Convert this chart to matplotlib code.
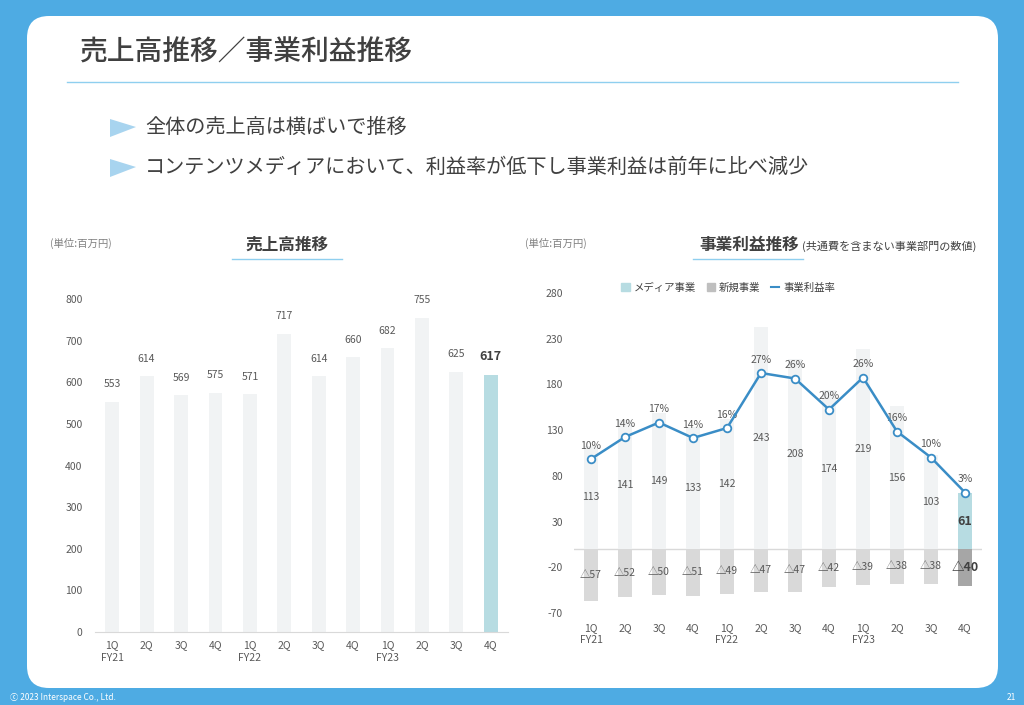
import matplotlib.pyplot as plt
from matplotlib.patches import FancyBboxPatch, Polygon, Patch
from matplotlib.lines import Line2D

plt.rcParams['font.family'] = ['Noto Sans CJK JP', 'DejaVu Sans']
plt.rcParams['axes.unicode_minus'] = False

# ---- data ----
quarters = ["1Q\nFY21", "2Q", "3Q", "4Q", "1Q\nFY22", "2Q", "3Q", "4Q",
            "1Q\nFY23", "2Q", "3Q", "4Q"]
sales = [553, 614, 569, 575, 571, 717, 614, 660, 682, 755, 625, 617]
media_profit = [113, 141, 149, 133, 142, 243, 208, 174, 219, 156, 103, 61]
new_profit = [-57, -52, -50, -51, -49, -47, -47, -42, -39, -38, -38, -40]
profit_rate = [10.1, 14.5, 17.4, 14.3, 16.3, 27.3, 26.2, 20.0, 26.4, 15.6, 10.4, 3.4]

left_yticks = [0, 100, 200, 300, 400, 500, 600, 700, 800]
right_yticks = [-70, -20, 30, 80, 130, 180, 230, 280]

title = "売上高推移／事業利益推移"
bullets = ["全体の売上高は横ばいで推移",
           "コンテンツメディアにおいて、利益率が低下し事業利益は前年に比べ減少"]

# ---- colours ----
BLUE_BG = "#4EABE3"
TEXT = "#404040"
LABEL = "#595959"
BAR_LIGHT = "#F1F3F4"
TEAL = "#B7DCE2"
GRAY_NEG = "#D9D9D9"
GRAY_NEG_LAST = "#A6A6A6"
LINE_BLUE = "#3A8DC6"
ACCENT = "#8FCFEF"

W, H = 1024, 705
fig = plt.figure(figsize=(W / 100, H / 100), dpi=100)
fig.patch.set_facecolor(BLUE_BG)

# background layer in pixel coordinates
bg = fig.add_axes([0, 0, 1, 1])
bg.set_xlim(0, W)
bg.set_ylim(H, 0)
bg.axis("off")
bg.add_patch(FancyBboxPatch((27, 16), 971, 672,
                            boxstyle="round,pad=0,rounding_size=22",
                            fc="white", ec="none"))
bg.text(80, 52, title, fontsize=20, color=TEXT, va="center", ha="left",
        weight="medium")
bg.plot([67, 958], [82, 82], color=ACCENT, lw=1)

for i, b in enumerate(bullets):
    y = 127 + i * 40
    bg.add_patch(Polygon([[110, y - 8], [110, y + 10], [136, y]], closed=True,
                         fc="#A8D4EF", ec="none"))
    bg.text(145, y, b, fontsize=14.5, color=TEXT, va="center", ha="left")

# left chart header
bg.text(50, 243, "(単位:百万円)", fontsize=7.5, color="#808080", va="center")
bg.text(287, 245, "売上高推移", fontsize=12, color=TEXT, weight="bold",
        va="center", ha="center")
bg.plot([232, 342], [259, 259], color=ACCENT, lw=1)

# right chart header
bg.text(525, 243, "(単位:百万円)", fontsize=7.5, color="#808080", va="center")
bg.text(749, 245, "事業利益推移", fontsize=12, color=TEXT, weight="bold",
        va="center", ha="center")
bg.text(802, 246, "(共通費を含まない事業部門の数値)", fontsize=8, color=TEXT,
        va="center", ha="left")
bg.plot([693, 803], [259, 259], color=ACCENT, lw=1)

# footer
bg.text(10, 697, "ⓒ 2023 Interspace Co., Ltd.", fontsize=6, color="white", va="center")
bg.text(1016, 697, "21", fontsize=6, color="white", va="center", ha="right")


def px_axes(l, t, r, b):
    return fig.add_axes([l / W, 1 - b / H, (r - l) / W, (b - t) / H])


x = list(range(len(quarters)))

# ---- left: sales ----
axl = px_axes(95, 299, 508, 632)
axl.patch.set_alpha(0)
colors_l = [BAR_LIGHT] * (len(sales) - 1) + [TEAL]
axl.bar(x, sales, width=0.4, color=colors_l, zorder=2)
for i, v in enumerate(sales):
    last = i == len(sales) - 1
    axl.annotate(str(v), (i, v), xytext=(0, 9), textcoords="offset points",
                 ha="center", va="bottom",
                 fontsize=9 if last else 7.5,
                 weight="bold" if last else "normal",
                 color=TEXT if last else LABEL)
axl.set_xlim(-0.5, 11.5)
axl.set_ylim(0, 800)
axl.set_yticks(left_yticks)
axl.set_xticks(x)
axl.set_xticklabels(quarters, linespacing=1.3)
axl.tick_params(length=0, labelsize=7.5, labelcolor=LABEL)
axl.tick_params(axis="y", pad=9)
axl.tick_params(axis="x", pad=6)
for s in ["top", "right", "left"]:
    axl.spines[s].set_visible(False)
axl.spines["bottom"].set_color(GRAY_NEG)

# ---- right: profit ----
axr = px_axes(574, 293, 982, 613)
axr.patch.set_alpha(0)
colors_m = [BAR_LIGHT] * (len(media_profit) - 1) + [TEAL]
colors_n = [GRAY_NEG] * (len(new_profit) - 1) + [GRAY_NEG_LAST]
axr.bar(x, media_profit, width=0.4, color=colors_m, zorder=2)
axr.bar(x, new_profit, width=0.4, color=colors_n, zorder=2)
axr.axhline(0, color=GRAY_NEG, lw=1, zorder=1)
for i, (m, n) in enumerate(zip(media_profit, new_profit)):
    last = i == len(media_profit) - 1
    axr.text(i, m / 2, str(m), ha="center", va="center",
             fontsize=9 if last else 7.5, weight="bold" if last else "normal",
             color=TEXT if last else LABEL, zorder=4)
    axr.text(i, n / 2, "△" + str(abs(n)), ha="center", va="center",
             fontsize=9 if last else 7.5, weight="bold" if last else "normal",
             color=TEXT if last else LABEL, zorder=4)
axr.set_xlim(-0.5, 11.5)
axr.set_ylim(-70, 280)
axr.set_yticks(right_yticks)
axr.set_xticks(x)
axr.set_xticklabels(quarters, linespacing=1.3)
axr.tick_params(length=0, labelsize=7.5, labelcolor=LABEL)
axr.tick_params(axis="y", pad=8)
axr.tick_params(axis="x", pad=7)
for s in axr.spines.values():
    s.set_visible(False)

ax2 = axr.twinx()
ax2.set_ylim(-20.7, 43.3)
ax2.plot(x, profit_rate, color=LINE_BLUE, lw=1.8, marker="o", ms=5.5,
         mfc="white", mec=LINE_BLUE, mew=1.3, zorder=5)
for i, r in enumerate(profit_rate):
    ax2.annotate(f"{round(r)}%", (i, r), xytext=(0, 6), textcoords="offset points",
                 ha="center", va="bottom", fontsize=7.5, color=LABEL)
ax2.set_yticks([])
for s in ax2.spines.values():
    s.set_visible(False)

handles = [Patch(color=TEAL), Patch(color="#BFBFBF"),
           Line2D([], [], color=LINE_BLUE, lw=1.5)]
axr.legend(handles, ["メディア事業", "新規事業", "事業利益率"], ncol=3,
           loc="center left", bbox_to_anchor=((612 - 574) / 408, (613 - 288) / 320),
           frameon=False, fontsize=7.5, handlelength=0.8, handleheight=0.8,
           handletextpad=0.4, columnspacing=1.0, labelcolor=TEXT)

fig.savefig("out.png", dpi=100, facecolor=fig.get_facecolor())
